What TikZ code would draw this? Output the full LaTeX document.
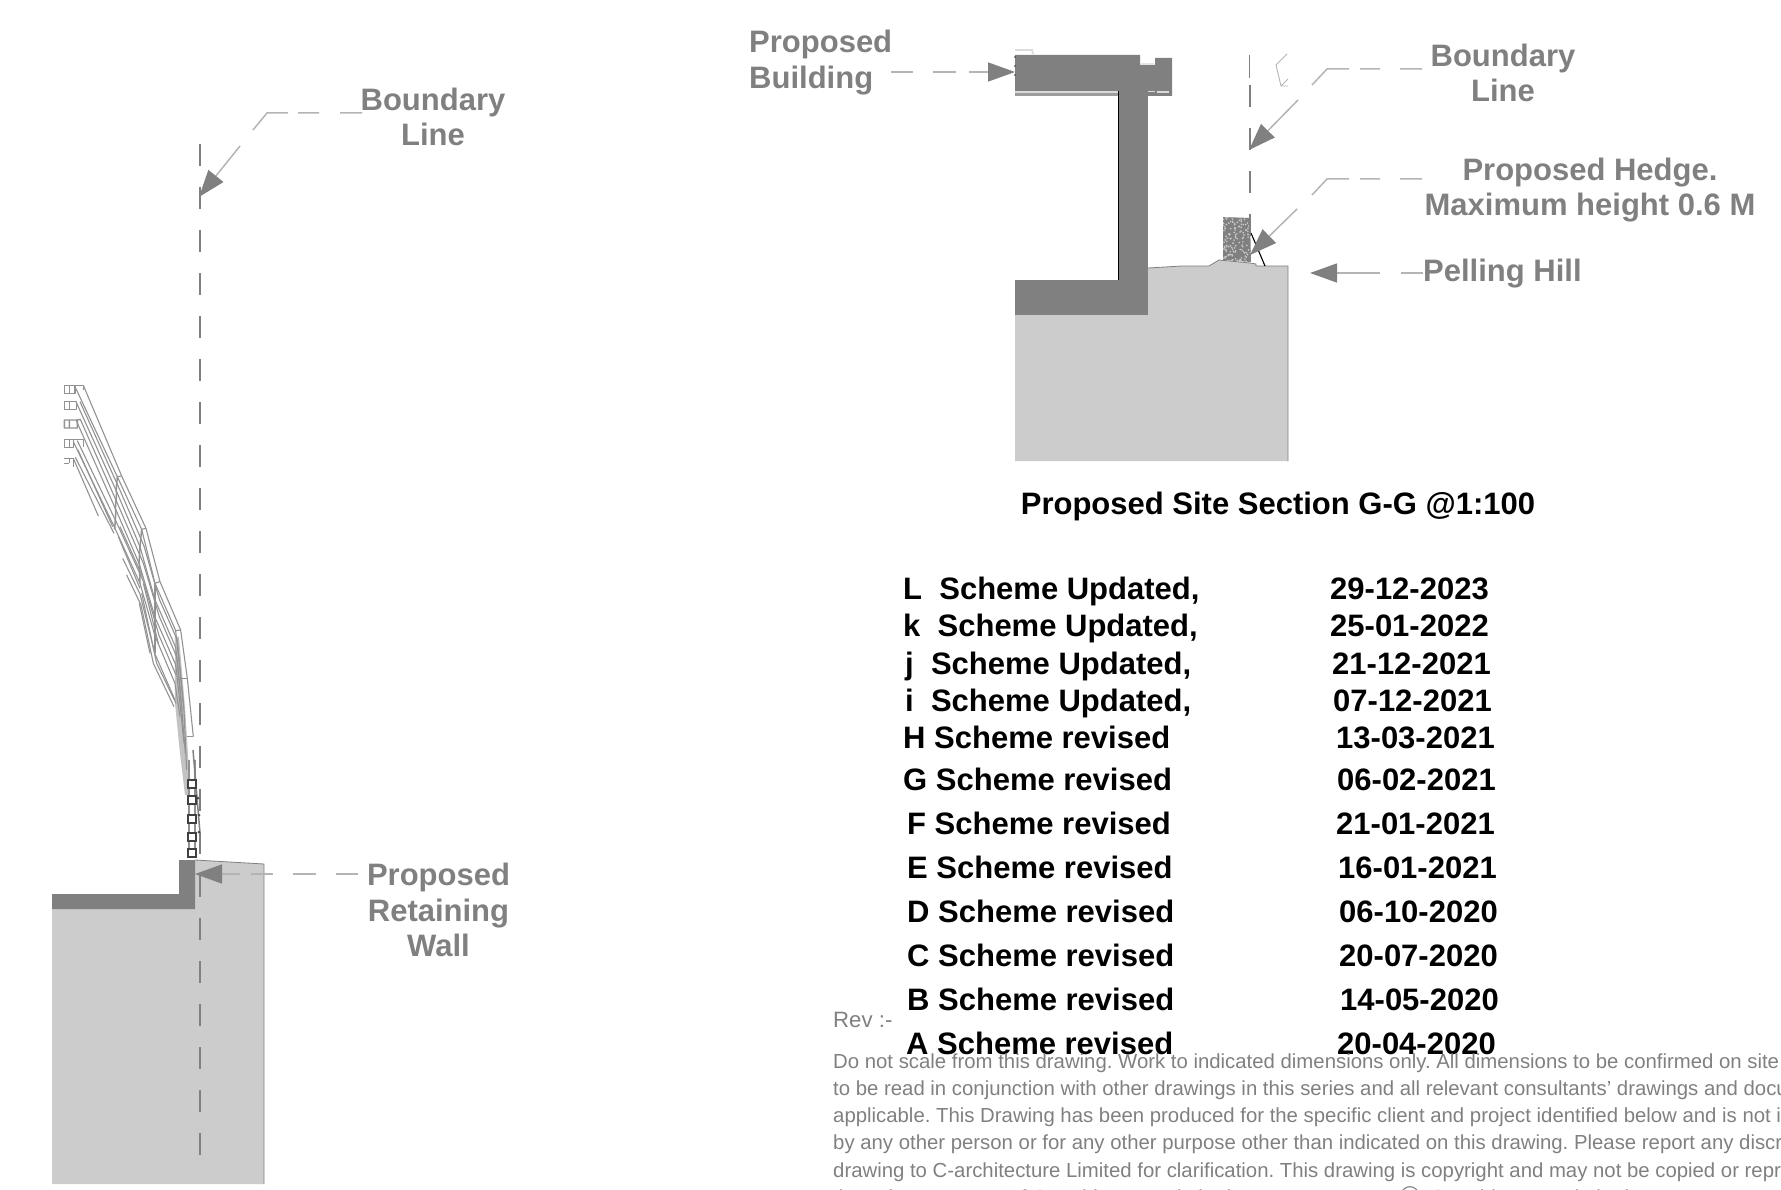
\documentclass[tikz,border=0pt]{standalone}
\usepackage{fontspec}
\setmainfont{Liberation Sans}
\usetikzlibrary{arrows.meta}
\definecolor{wallc}{HTML}{808080}
\definecolor{groundc}{HTML}{CCCCCC}
\definecolor{leadc}{HTML}{B4B4B4}
\definecolor{labelc}{HTML}{808080}
\definecolor{fanc}{HTML}{929292}
\tikzset{
  px/.style={x=1pt,y=-1pt},
  boundary/.style={draw=wallc,line width=1.5pt,dash pattern=on 22pt off 21pt},
  leader/.style={draw=leadc,line width=1.5pt},
  tipped/.style={draw=leadc,line width=1.5pt,-{Triangle[length=27pt,width=19pt,color=wallc]}},
  flabel/.style={text=labelc,font=\bfseries\fontsize{31}{35.5}\selectfont,align=center,inner sep=0pt},
  rowtext/.style={text=black,font=\bfseries\fontsize{31}{35}\selectfont,anchor=base west,inner sep=0pt},
  note/.style={text=labelc,font=\fontsize{20.35}{24}\selectfont,anchor=base west,inner sep=0pt},
  fan/.style={draw=fanc,line width=1.1pt,line join=round},
  sq/.style={draw=black!75,line width=2.2pt,fill=white,minimum size=8pt,inner sep=0pt},
}
\begin{document}
\frenchspacing
\begin{tikzpicture}[px]
\useasboundingbox (0,0) rectangle (1781,1190);
\clip (0,0) rectangle (1781,1190);
% ---- left section ----
\fill[groundc] (195,860) -- (264,864) -- (264,1184) -- (52,1184) -- (52,909) -- (195,909) -- cycle;
\draw[wallc,line width=.8pt] (195,860) -- (264,864) -- (264,1184);
\fill[wallc] (179,860) -- (195,860) -- (195,909) -- (52,909) -- (52,894) -- (179,894) -- cycle;
\coordinate (blA) at (200,144);
\coordinate (blB) at (200,1156);
\draw[boundary] (blA) -- (blB);
% fan of stair strips, coordinates at three times the pixel size
\begin{scope}[shift={(40,370)},x=.3333pt,y=-.3333pt]
\fill[fanc!55] (405,800) -- (417,800) -- (435,1010) -- (447,1200) -- (445,1275) -- (435,1275) -- (420,1150) -- (405,1000) -- cycle;
% strip 1
\draw[fan] (105,50) -- (232,320) -- (305,478) -- (345,640) -- (407,782) -- (420,900) -- (432,1020) -- (440,1200);
\draw[fan] (130,46) -- (245,318) -- (318,475) -- (360,635) -- (422,780) -- (442,925) -- (460,1100);
% strip 2
\draw[fan] (108,95) -- (230,365) -- (300,530) -- (345,690) -- (407,832) -- (420,950) -- (436,1150);
\draw[fan] (120,95) -- (241,363) -- (312,528) -- (358,688) -- (412,810) -- (430,1000);
% strip 3
\draw[fan] (108,150) -- (228,420) -- (298,582) -- (345,742) -- (407,884) -- (420,1000) -- (432,1120);
\draw[fan] (121,148) -- (240,418) -- (310,580) -- (358,740) -- (410,860) -- (426,1020);
% strip 4
\draw[fan] (100,215) -- (225,475) -- (300,640) -- (345,798) -- (405,940) -- (420,1040);
\draw[fan] (112,212) -- (237,473) -- (311,636) -- (357,796) -- (408,915);
% strip 5 and the free ends
\draw[fan] (100,265) -- (175,438);
\draw[fan] (106,262) -- (222,490);
\draw[fan] (114,240) -- (218,470);
\draw[fan] (248,565) -- (300,672) -- (345,852) -- (405,990);
\draw[fan] (260,615) -- (303,705) -- (340,880) -- (402,1010);
\draw[fan] (305,670) -- (350,880) -- (408,1000);
\draw[fan] (235,500) -- (300,655);
\draw[fan] (298,700) -- (330,850);
\draw[fan] (310,640) -- (355,820);
\draw[fan] (240,470) -- (308,620);
% kinks
\draw[fan] (232,320) -- (245,318) (305,478) -- (318,475) (345,640) -- (360,635) (407,782) -- (422,780);
\draw[fan,line width=1.5pt] (232,320) -- (228,365) (230,365) -- (226,420) (228,420) -- (224,478);
\draw[fan,line width=1.5pt] (305,478) -- (300,530) (300,530) -- (297,582) (298,582) -- (300,640);
\draw[fan,line width=1.5pt] (345,640) -- (345,690) (345,690) -- (345,742) (345,742) -- (345,798) (345,798) -- (345,850);
\draw[fan] (420,925) -- (442,925) (442,1100) -- (460,1100);
% tread ends
\draw[fan,line width=1.4pt] (73,46) rectangle (105,70) (88,46) -- (88,70) (105,46) -- (130,46) -- (130,60);
\draw[fan,line width=1.4pt] (73,94) rectangle (110,118) (88,94) -- (88,118);
\draw[fan,line width=1.4pt] (73,150) rectangle (112,174) (88,150) -- (88,174) (112,150) -- (122,148);
\draw[fan,line width=1.4pt] (73,208) rectangle (100,232) (88,208) -- (88,232) (100,208) -- (130,208) -- (130,232);
\draw[fan,line width=1.4pt] (73,265) -- (100,265) (73,280) -- (88,280) (88,265) -- (88,280) (100,265) -- (100,290);
\end{scope}
\draw[fan] (189,760) -- (189,856) (195,760) -- (195,856);
\draw[wallc,line width=1.5pt] (193,750) -- (200,833);
\node[sq] (s1) at (192,784) {};
\node[sq] (s2) at (192,800) {};
\node[sq] (s3) at (192,819) {};
\node[sq] (s4) at (192,837) {};
\node[sq] (s5) at (192,853) {};
\fill[black!70] (198,798) circle (1.5pt) (199,815) circle (1.5pt) (199,832) circle (1.5pt);
% ---- right section ----
\fill[groundc] (1015,315) -- (1148,315) -- (1148,268) -- (1182,266) -- (1209,266) -- (1219,260) -- (1250,263) -- (1256,264) -- (1256,266) -- (1288,266) -- (1288,461) -- (1015,461) -- cycle;
\draw[wallc,line width=.8pt] (1148,268) -- (1182,266) -- (1209,266) -- (1219,260) -- (1250,263) -- (1256,264) -- (1256,266) -- (1288,266) -- (1288,461);
\fill[wallc] (1015,55) -- (1140,55) -- (1140,65) -- (1155,65) -- (1155,58) -- (1172,58) -- (1172,96) -- (1015,96) -- cycle;
\fill[groundc!75] (1015,91.5) rectangle (1118,93.5);
\fill[fanc!90] (1015,93.5) rectangle (1118,96);
\fill[groundc!75] (1148,91) rectangle (1155,92.5);
\fill[groundc!75] (1157,91) rectangle (1169,93);
\fill[groundc!50] (1141,63) rectangle (1154,65);
\draw[groundc!70,line width=1.6pt] (1015,50) -- (1032,50) -- (1033,54);
\fill[black!80] (1015,57) circle (.9pt) (1015,66) circle (.9pt) (1015,75) circle (.9pt);
\fill[wallc] (1118,90) rectangle (1148,280);
\fill[wallc] (1015,280) rectangle (1148,315);
\draw[black,line width=1.3pt] (1118.5,91) -- (1118.5,280);
% hedge
\begin{scope}
\clip (1223,217) -- (1250,218) -- (1251,262) -- (1223,260) -- cycle;
\fill[wallc] (1220,215) rectangle (1255,265);
\pgfmathsetseed{7}
\foreach \i in {1,...,130}{
  \pgfmathsetmacro{\hx}{1223+28*rnd}
  \pgfmathsetmacro{\hy}{217+45*rnd}
  \fill[groundc] (\hx,\hy) circle (.9pt);
}
\end{scope}
\draw[black,line width=1.1pt] (1251,233) -- (1265,266);
\coordinate (brA) at (1250,85);
\coordinate (brB) at (1250,260);
\draw[boundary] (brA) -- (brB);
\draw[wallc,line width=1.5pt] (1249.5,55) -- (1249.5,78);
\draw[leadc,line width=.9pt] (1287,54) -- (1276,65) -- (1281,86) -- (1288,86) (1281,86) -- (1288,79);
% ---- labels ----
\node[flabel] (lbBoundL) at (433,117) {Boundary\\Line};
\node[flabel] (lbWall) at (438.5,910) {Proposed\\Retaining\\Wall};
\node[flabel,align=left,anchor=west] (lbBuild) at (749,62.5) {Proposed\\Building};
\node[flabel] (lbBoundR) at (1503,73) {Boundary\\Line};
\node[flabel] (lbHedge) at (1590,190) {Proposed Hedge.\\Maximum height 0.6 M};
\node[flabel,anchor=west] (lbHill) at (1423,273.5) {Pelling Hill};
\node[rowtext,anchor=center,text=black] (title) at (1278,506.5) {Proposed Site Section G-G @1:100};
% ---- leaders ----
\coordinate (t1) at (199,197); \coordinate (k1) at (267,113);
\draw[tipped] (240,146) -- (t1);
\draw[leader] (253,130) -- (k1) -- (288,113) (298,113) -- (319,113) (340,113) -- (362,113);
\coordinate (t2) at (195,874);
\draw[tipped] (240,874) -- (t2);
\draw[leader] (251,874) -- (273,874) (293,874) -- (316,874) (336,874) -- (358,874);
\coordinate (t3) at (1015,72);
\draw[tipped] (969,72) -- (t3);
\draw[leader] (891,72) -- (913,72) (933,72) -- (956,72);
\coordinate (t4) at (1249,150); \coordinate (k4) at (1327,69);
\draw[tipped] (1298,100) -- (t4);
\draw[leader] (1312,85) -- (k4) -- (1349,69) (1360,69) -- (1380,69) (1400,69) -- (1422,69);
\coordinate (t5) at (1250,255); \coordinate (k5) at (1327,179);
\draw[tipped] (1297,209) -- (t5);
\draw[leader] (1312,195) -- (k5) -- (1349,179) (1360,179) -- (1380,179) (1400,179) -- (1422,179);
\coordinate (t6) at (1310,273);
\draw[tipped] (1380,273) -- (t6);
\draw[leader] (1401,273) -- (1423,273);
% ---- revisions ----
\node[rowtext] (r1) at (903,599) {L\ \ Scheme Updated,};
\node[rowtext] (d1) at (1330,599) {29-12-2023};
\node[rowtext] (r2) at (903,636) {k\ \ Scheme Updated,};
\node[rowtext] (d2) at (1330,636) {25-01-2022};
\node[rowtext] (r3) at (905,674) {j\ \ Scheme Updated,};
\node[rowtext] (d3) at (1332,674) {21-12-2021};
\node[rowtext] (r4) at (905,711) {i\ \ Scheme Updated,};
\node[rowtext] (d4) at (1333,711) {07-12-2021};
\node[rowtext] (r5) at (903,748) {H Scheme revised};
\node[rowtext] (d5) at (1336,748) {13-03-2021};
\node[rowtext] (r6) at (903,790) {G Scheme revised};
\node[rowtext] (d6) at (1337,790) {06-02-2021};
\node[rowtext] (r7) at (907,834) {F Scheme revised};
\node[rowtext] (d7) at (1336,834) {21-01-2021};
\node[rowtext] (r8) at (907,878) {E Scheme revised};
\node[rowtext] (d8) at (1338,878) {16-01-2021};
\node[rowtext] (r9) at (907,922) {D Scheme revised};
\node[rowtext] (d9) at (1339,922) {06-10-2020};
\node[rowtext] (r10) at (907,966) {C Scheme revised};
\node[rowtext] (d10) at (1339,966) {20-07-2020};
\node[rowtext] (r11) at (907,1010) {B Scheme revised};
\node[rowtext] (d11) at (1340,1010) {14-05-2020};
\node[rowtext] (r12) at (906,1054) {A Scheme revised};
\node[rowtext] (d12) at (1337,1054) {20-04-2020};
% ---- notes ----
\node[note,font=\fontsize{22.2}{24}\selectfont] (rev) at (833,1027) {Rev :-};
\node[note] (n1) at (833,1068) {Do not scale from this drawing. Work to indicated dimensions only. All dimensions to be confirmed on site};
\node[note] (n2) at (833,1095) {to be read in conjunction with other drawings in this series and all relevant consultants' drawings and documents};
\node[note] (n3) at (833,1122) {applicable. This Drawing has been produced for the specific client and project identified below and is not intended};
\node[note] (n4) at (833,1149) {by any other person or for any other purpose other than indicated on this drawing. Please report any discrepancies};
\node[note] (n5) at (833,1177) {drawing to C-architecture Limited for clarification. This drawing is copyright and may not be copied or reproduced};
\node[note] (n6) at (833,1204) {the written consent of C-architecture Limited.};
\node[note,font=\fontsize{27}{27}\selectfont] (n7) at (1400,1205) {©};
\node[note] (n8) at (1430,1204) {C-architecture Limited.};
\end{tikzpicture}
\end{document}
